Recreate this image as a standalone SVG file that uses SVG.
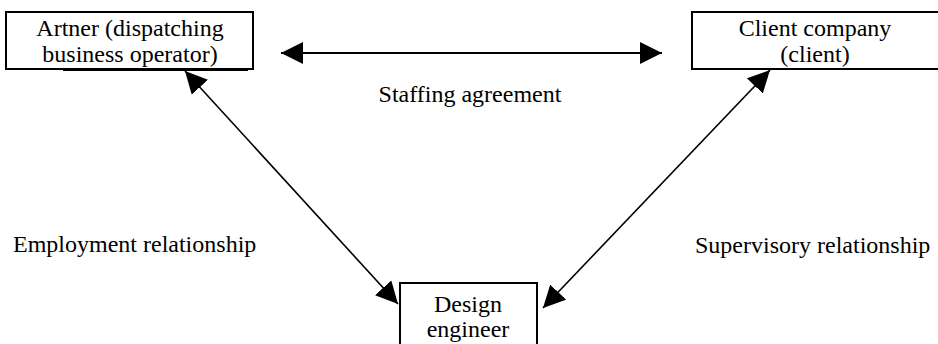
<svg xmlns="http://www.w3.org/2000/svg" width="938" height="344" viewBox="0 0 938 344">
<style>
.box{fill:#fff;stroke:#000;stroke-width:2}
.t{font-family:'Liberation Serif','Times New Roman',Tinos,'DejaVu Serif',serif;font-size:24px;fill:#000}
.c{text-anchor:middle}
.ln{stroke:#000;stroke-width:2;fill:none}
.dl{stroke:#000;stroke-width:1.6;fill:none}
</style>
<defs>
<marker id="ah" viewBox="0 0 22 22" refX="22" refY="11" markerWidth="22" markerHeight="22" markerUnits="userSpaceOnUse" orient="auto-start-reverse">
<path d="M0,0 L22,11 L0,22 Z" fill="#000"/>
</marker>
</defs>
<rect width="938" height="344" fill="#fff"/>
<g id="connectors">
<line class="ln" x1="281" y1="53" x2="662" y2="53" marker-start="url(#ah)" marker-end="url(#ah)"/>
<line class="dl" x1="185" y1="71" x2="398" y2="304" marker-start="url(#ah)" marker-end="url(#ah)"/>
<line class="dl" x1="770" y1="70" x2="543" y2="308" marker-start="url(#ah)" marker-end="url(#ah)"/>
</g>
<g id="node-artner">
<line x1="63" y1="70.5" x2="248" y2="70.5" stroke="#000" stroke-width="1"/>
<rect class="box" x="6" y="12" width="247" height="57"/>
<text class="t c" font-family="Liberation Serif, serif" x="130" y="36">Artner (dispatching</text>
<text class="t c" font-family="Liberation Serif, serif" x="130" y="62">business operator)</text>
</g>
<g id="node-client">
<rect class="box" x="692" y="12" width="260" height="57"/>
<text class="t c" font-family="Liberation Serif, serif" x="815" y="36">Client company</text>
<text class="t c" font-family="Liberation Serif, serif" x="815" y="62">(client)</text>
</g>
<g id="node-engineer">
<rect class="box" x="400" y="283" width="137" height="70"/>
<text class="t c" font-family="Liberation Serif, serif" x="468" y="312">Design</text>
<text class="t c" font-family="Liberation Serif, serif" x="468" y="337">engineer</text>
</g>
<g id="labels">
<text class="t c" font-family="Liberation Serif, serif" x="470" y="102">Staffing agreement</text>
<text class="t" font-family="Liberation Serif, serif" x="13" y="252">Employment relationship</text>
<text class="t" font-family="Liberation Serif, serif" x="695" y="253">Supervisory relationship</text>
</g>
</svg>
